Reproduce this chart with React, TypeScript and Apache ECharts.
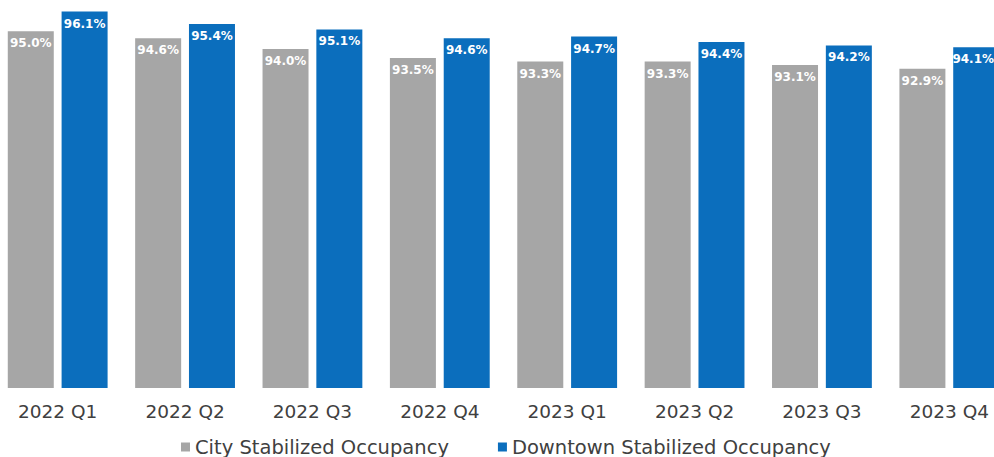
import React, { useEffect, useRef } from "react";
import * as echarts from "echarts";

const categories = ["2022 Q1", "2022 Q2", "2022 Q3", "2022 Q4", "2023 Q1", "2023 Q2", "2023 Q3", "2023 Q4"];
const cityValues = [95.0, 94.6, 94.0, 93.5, 93.3, 93.3, 93.1, 92.9];
const downtownValues = [96.1, 95.4, 95.1, 94.6, 94.7, 94.4, 94.2, 94.1];
const seriesNames = ["City Stabilized Occupancy", "Downtown Stabilized Occupancy"];

// the chart is drawn on a canvas slightly larger than the window, as the reference is cropped
const OFF_X = 6;
const OFF_Y = 58;

export default function App() {
  const ref = useRef<HTMLDivElement>(null);
  useEffect(() => {
    if (!ref.current) return;
    const chart = echarts.init(ref.current, null, { renderer: "svg" });
    const font = "DejaVu Sans";
    const label = {
      show: true,
      position: "insideTop" as const,
      distance: 6,
      color: "#ffffff",
      fontFamily: font,
      fontSize: 12,
      fontWeight: "bold" as const,
      formatter: (p: any) => p.value.toFixed(1) + "%",
    };
    const lastIdx = downtownValues.length - 1;
    const downtownData = downtownValues.map((v, i) =>
      i === lastIdx ? { value: v, label: { offset: [-3, 0] } } : v
    );
    chart.setOption({
      animation: false,
      backgroundColor: "#ffffff",
      grid: { left: 0, right: 0, top: 0, bottom: 69 },
      xAxis: {
        type: "category",
        data: categories,
        axisLine: { show: false },
        axisTick: { show: false },
        axisLabel: { color: "#404040", fontFamily: font, fontSize: 18.5, margin: 14 },
      },
      yAxis: { type: "value", min: 75, max: 100, show: false, splitLine: { show: false } },
      legend: {
        left: 176 + OFF_X,
        top: 432 + OFF_Y,
        icon: "rect",
        itemWidth: 9,
        itemHeight: 9,
        itemGap: 49,
        textStyle: { color: "#404040", fontFamily: font, fontSize: 19.5, lineHeight: 19 },
        data: seriesNames,
      },
      series: [
        {
          name: seriesNames[0],
          type: "bar",
          data: cityValues,
          barWidth: 46,
          barGap: "17%",
          itemStyle: { color: "#a6a6a6" },
          label,
        },
        {
          name: seriesNames[1],
          type: "bar",
          data: downtownData,
          barWidth: 46,
          barGap: "17%",
          itemStyle: { color: "#0b6ebd" },
          label: { ...label, formatter: (p: any) => Number(p.value).toFixed(1) + "%" },
        },
      ],
    });
    return () => chart.dispose();
  }, []);
  return (
    <div
      ref={ref}
      style={{ width: 994 + OFF_X + 19, height: 457 + OFF_Y, position: "fixed", left: -OFF_X, top: -OFF_Y }}
    />
  );
}
